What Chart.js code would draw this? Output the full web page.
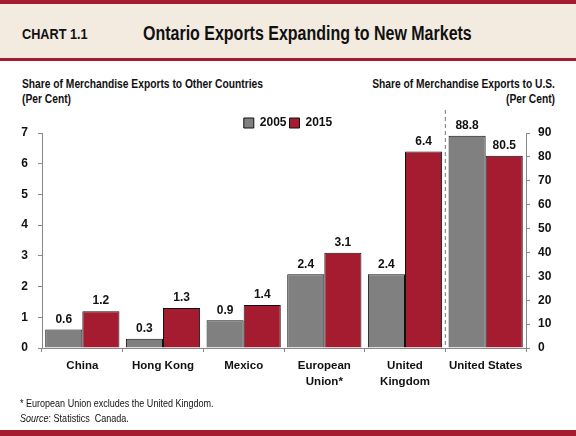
<!DOCTYPE html>
<html>
<head>
<meta charset="utf-8">
<script src="https://cdn.jsdelivr.net/npm/chart.js@4.4.1/dist/chart.umd.min.js"></script>
<style>
  html, body { margin: 0; padding: 0; background: #fff; }
  body { width: 576px; height: 436px; position: relative; overflow: hidden;
         font-family: "Liberation Sans", Arial, sans-serif; }
  .topbar { position: absolute; left: 0; top: 0; width: 576px; height: 4px; background: #a51c30; }
  .header { position: absolute; left: 0; top: 4px; width: 576px; height: 54px; background: #f3ebe0;
            border-bottom: 3px solid #a51c30; }
  .nar { position: absolute; white-space: nowrap; transform: scaleX(0.82); transform-origin: 0 0; color: #111; }
  .narR { position: absolute; white-space: nowrap; transform: scaleX(0.82); transform-origin: 100% 0; color: #111; text-align: right; }
  .chartno { left: 22px; top: 21px; font-size: 15.5px; font-weight: bold; }
  .title { left: 143px; top: 18px; font-size: 19.5px; font-weight: bold; }
  .sub { font-size: 12.5px; font-weight: bold; line-height: 15px; }
  .foot { left: 20px; font-size: 11px; }
  .botbar { position: absolute; left: 0; top: 430px; width: 576px; height: 6px; background: #a51c30; }
  #wrap { position: absolute; left: 0; top: 108px; width: 576px; height: 292px; }
</style>
</head>
<body>
<div class="topbar"></div>
<div class="header">
  <div class="nar chartno">CHART 1.1</div>
  <div class="nar title">Ontario Exports Expanding to New Markets</div>
</div>
<div class="nar sub" style="left:22px; top:77px;">Share of Merchandise Exports to Other Countries<br>(Per Cent)</div>
<div class="narR sub" style="right:21px; top:77px;">Share of Merchandise Exports to U.S.<br>(Per Cent)</div>
<div id="wrap"><canvas id="exportsChart"></canvas></div>
<div class="nar foot" style="top:397px;">* European Union excludes the United Kingdom.</div>
<div class="nar foot" style="top:412px;"><i>Source</i>: Statistics&nbsp; Canada.</div>
<div class="botbar"></div>

<script>
// categories
var markets = [['China'], ['Hong Kong'], ['Mexico'], ['European', 'Union*'], ['United', 'Kingdom'], ['United States']];
var years = ['2005', '2015'];

// share of exports to other countries (left axis)
var other2005 = [0.6, 0.3, 0.9, 2.4, 2.4, null];
var other2015 = [1.2, 1.3, 1.4, 3.1, 6.4, null];

// share of exports to U.S. (right axis)
var us2005 = [null, null, null, null, null, 88.8];
var us2015 = [null, null, null, null, null, 80.5];

var grey = '#808080';
var red = '#a51c30';
var fontFam = '"Liberation Sans", Arial, sans-serif';

// value labels above each bar
var valueLabels = {
    id: 'valueLabels',
    afterDatasetsDraw: function(chart) {
        var c = chart.ctx;
        c.save();
        c.font = 'bold 12px ' + fontFam;
        c.fillStyle = '#111';
        c.textAlign = 'center';
        c.textBaseline = 'bottom';
        chart.data.datasets.forEach(function(ds, i) {
            var meta = chart.getDatasetMeta(i);
            meta.data.forEach(function(bar, j) {
                var v = ds.data[j];
                if (v === null || v === undefined) return;
                c.fillText(v.toFixed(1), bar.x, bar.y - 4);
            });
        });
        c.restore();
    }
};

// dashed divider between the two panels
var divider = {
    id: 'divider',
    afterDraw: function(chart) {
        var x = chart.scales.x;
        var area = chart.chartArea;
        var px = (x.getPixelForValue(4) + x.getPixelForValue(5)) / 2;
        var c = chart.ctx;
        c.save();
        c.strokeStyle = '#777';
        c.lineWidth = 1;
        c.setLineDash([4, 3]);
        c.beginPath();
        c.moveTo(px, area.top - 30);
        c.lineTo(px, area.bottom);
        c.stroke();
        c.restore();
    }
};

// nudge the legend down a little, closer to the plot
var legendNudge = {
    id: 'legendNudge',
    afterLayout: function(chart) {
        if (chart.legend) {
            chart.legend.top += 6;
            chart.legend.bottom += 6;
        }
    }
};

var ctx = document.getElementById('exportsChart').getContext('2d');
var exportsChart = new Chart(ctx, {
    type: 'bar',
    data: {
        labels: markets,
        datasets: [{
            label: years[0], data: other2005, yAxisID: 'y',
            backgroundColor: grey, borderColor: '#111', borderWidth: 1
        }, {
            label: years[1], data: other2015, yAxisID: 'y',
            backgroundColor: red, borderColor: '#111', borderWidth: 1
        }, {
            label: years[0] + ' U.S.', data: us2005, yAxisID: 'y1',
            backgroundColor: grey, borderColor: '#111', borderWidth: 1
        }, {
            label: years[1] + ' U.S.', data: us2015, yAxisID: 'y1',
            backgroundColor: red, borderColor: '#111', borderWidth: 1
        }]
    },
    options: {
        responsive: true,
        maintainAspectRatio: false,
        animation: false,
        skipNull: true,
        categoryPercentage: 0.92,
        barPercentage: 1.0,
        layout: { padding: 0 },
        plugins: {
            tooltip: { enabled: false },
            legend: {
                position: 'top',
                labels: {
                    filter: function(item) { return item.datasetIndex < 2; },
                    boxWidth: 10, boxHeight: 10, padding: 3,
                    color: '#111',
                    font: { family: fontFam, size: 12, weight: 'bold' }
                }
            }
        },
        scales: {
            x: {
                grid: { drawOnChartArea: false, color: '#888', tickLength: 4, offset: true },
                border: { color: '#888' },
                ticks: { color: '#111', font: { family: fontFam, size: 11.5, weight: 'bold', lineHeight: 1.45 }, padding: 5, maxRotation: 0, autoSkip: false },
                afterFit: function(s) { s.height = 52; }
            },
            y: {
                position: 'left', min: 0, max: 7,
                ticks: { stepSize: 1, color: '#111', padding: 10, font: { family: fontFam, size: 12, weight: 'bold' } },
                grid: { drawOnChartArea: false, color: '#888', tickLength: 4 },
                border: { color: '#888' },
                afterFit: function(s) { s.width = 42; }
            },
            y1: {
                position: 'right', min: 0, max: 90,
                ticks: { stepSize: 10, color: '#111', padding: 8, font: { family: fontFam, size: 12, weight: 'bold' } },
                grid: { drawOnChartArea: false, color: '#888', tickLength: 4 },
                border: { color: '#888' },
                afterFit: function(s) { s.width = 50; }
            }
        }
    },
    plugins: [valueLabels, divider, legendNudge]
});
</script>
</body>
</html>
